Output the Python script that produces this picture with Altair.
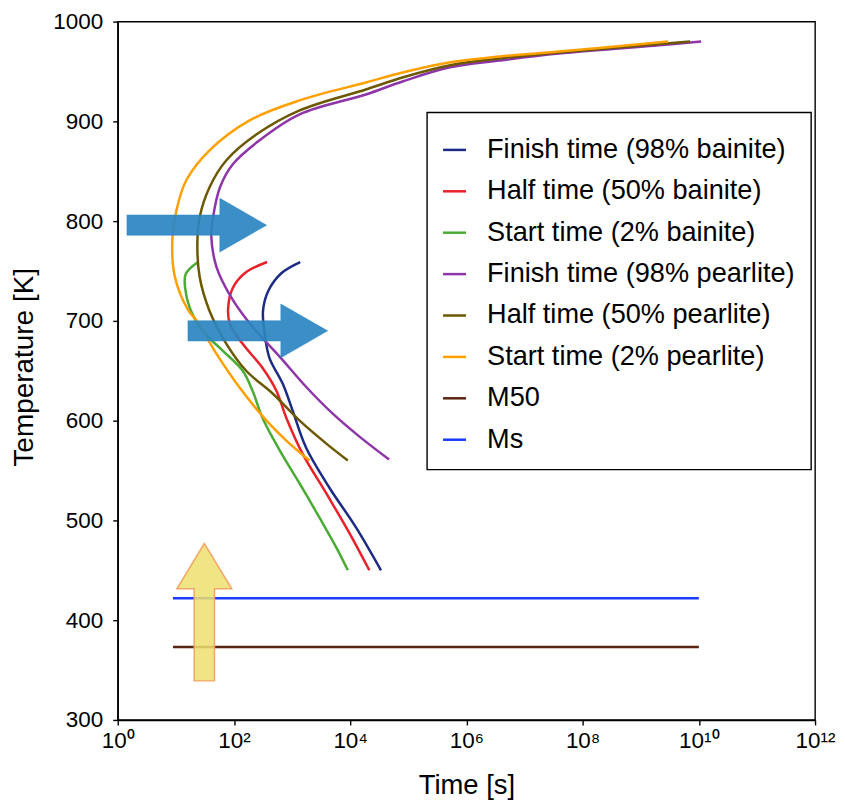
import altair as alt
import pandas as pd

FONT = "Liberation Sans, Arial, sans-serif"

# legend order / colours
series_names = [
    "Finish time (98% bainite)",
    "Half time (50% bainite)",
    "Start time (2% bainite)",
    "Finish time (98% pearlite)",
    "Half time (50% pearlite)",
    "Start time (2% pearlite)",
    "M50",
    "Ms",
]
series_colors = ["#1c2b84", "#e8212b", "#4bab35", "#8e35a8", "#6b5800", "#ffa000", "#5a2412", "#1a3cff"]

# curves: log10(time [s]) and temperature [K], in drawing order
bf_logt = [3.14, 2.82, 2.59, 2.50, 2.53, 2.61, 2.84, 3.01, 3.24, 3.64, 4.10, 4.53]
bf_T = [759, 748, 730, 710, 687, 663, 637, 610, 573, 533, 493, 450]

bh_logt = [2.57, 2.19, 1.98, 1.90, 1.93, 2.15, 2.49, 2.73, 2.90, 3.18, 3.59, 3.99, 4.33]
bh_T = [759, 748, 733, 713, 697, 677, 653, 630, 603, 567, 527, 487, 450]

bs_logt = [1.38, 1.17, 1.16, 1.24, 1.46, 1.81, 2.15, 2.32, 2.49, 2.79, 3.13, 3.47, 3.76, 3.96]
bs_T = [759, 747, 733, 713, 690, 670, 650, 630, 603, 570, 537, 503, 473, 450]

pf_logt = [10.04, 9.47, 7.59, 6.57, 5.70, 4.90, 4.27, 3.13, 2.44, 1.98, 1.76, 1.64, 1.61, 1.70, 1.98, 2.32, 2.79, 3.24, 3.70, 4.16, 4.67]
pf_T = [980, 977, 968, 961, 954, 940, 927, 907, 881, 857, 834, 804, 785, 754, 721, 694, 664, 634, 607, 584, 561]

ph_logt = [9.85, 7.59, 6.57, 5.70, 4.90, 4.27, 3.13, 2.39, 1.87, 1.58, 1.41, 1.37, 1.41, 1.58, 1.87, 2.21, 2.67, 3.13, 3.59, 3.96]
ph_T = [980, 969, 963, 956, 944, 932, 911, 887, 861, 834, 804, 777, 744, 710, 677, 650, 627, 600, 577, 560]

ps_logt = [9.47, 7.59, 6.57, 5.70, 4.90, 4.27, 3.13, 2.27, 1.58, 1.18, 1.01, 0.94, 0.98, 1.21, 1.36, 1.70, 2.10, 2.56, 2.90, 3.30]
ps_T = [980, 970, 965, 959, 949, 939, 921, 901, 871, 841, 811, 782, 745, 711, 700, 667, 633, 600, 580, 560]

m50_logt = [0.95, 10.0]
m50_T = [373, 373]
ms_logt = [0.95, 10.0]
ms_T = [422, 422]

curves = [
    (series_names[0], bf_logt, bf_T),
    (series_names[1], bh_logt, bh_T),
    (series_names[2], bs_logt, bs_T),
    (series_names[3], pf_logt, pf_T),
    (series_names[4], ph_logt, ph_T),
    (series_names[5], ps_logt, ps_T),
    (series_names[6], m50_logt, m50_T),
    (series_names[7], ms_logt, ms_T),
]

rows = []
for name, lt, tt in curves:
    for i, (a, b) in enumerate(zip(lt, tt)):
        rows.append({"series": name, "t": 10 ** a, "T": b, "idx": i})
df = pd.DataFrame(rows)

# annotation arrows (centre positions, data coordinates)
blue_arrow_logt = [1.36, 2.41]
blue_arrow_T = [796, 690]
yellow_arrow_logt = [1.49]
yellow_arrow_T = [408]

df_blue = pd.DataFrame({"t": [10 ** v for v in blue_arrow_logt], "T": blue_arrow_T})
df_yellow = pd.DataFrame({"t": [10 ** v for v in yellow_arrow_logt], "T": yellow_arrow_T})

x_ticks = [1, 1e2, 1e4, 1e6, 1e8, 1e10, 1e12]
y_ticks = [300, 400, 500, 600, 700, 800, 900, 1000]

label_expr = ("'10' + ['\u2070','\u00b9','\u00b2','\u00b3','\u2074','\u2075','\u2076','\u2077','\u2078','\u2079',"
              "'\u00b9\u2070','\u00b9\u00b9','\u00b9\u00b2'][round(log(datum.value)/LN10)]")

x_enc = alt.X(
    "t:Q",
    scale=alt.Scale(type="log", domain=[1, 1e12], nice=False),
    axis=alt.Axis(
        values=x_ticks,
        labelExpr=label_expr,
        labelFlush=False,
        title="Time [s]",
        labelFontSize=22.5,
        labelPadding=5,
        titleFontSize=27.5,
        titleBaseline="alphabetic",
        titleY=74,
        tickSize=5,
    ),
)
y_enc = alt.Y(
    "T:Q",
    scale=alt.Scale(domain=[300, 1000], nice=False),
    axis=alt.Axis(
        values=y_ticks,
        format="d",
        labelFlush=False,
        title="Temperature [K]",
        labelFontSize=22.5,
        labelPadding=10,
        titleFontSize=28,
        titleAngle=270,
        titleBaseline="alphabetic",
        titleAlign="center",
        titleX=-85,
        titleY=346,
        tickSize=5,
    ),
)

lines = alt.Chart(df).mark_line(strokeWidth=2.5, interpolate="catmull-rom").encode(
    x=x_enc,
    y=y_enc,
    color=alt.Color(
        "series:N",
        scale=alt.Scale(domain=series_names, range=series_colors),
        legend=alt.Legend(
            title=" ",
            titleFontSize=8,
            titlePadding=0,
            orient="none",
            legendX=310,
            legendY=91,
            padding=16,
            rowPadding=13.5,
            labelFontSize=27.2,
            labelLimit=500,
            labelOffset=19,
            labelColor="black",
            labelFont=FONT,
            symbolType="stroke",
            symbolSize=529,
            symbolStrokeWidth=2.5,
            symbolOffset=-2,
            fillColor="white",
            strokeColor="black",
        ),
    ),
    order=alt.Order("idx:Q"),
)

blue_path = "M -1 -0.145 L 0.33 -0.145 L 0.33 -0.385 L 1 0 L 0.33 0.385 L 0.33 0.145 L -1 0.145 Z"
yellow_path = "M -0.148 1 L -0.148 -0.34 L -0.4 -0.34 L 0 -1 L 0.4 -0.34 L 0.148 -0.34 L 0.148 1 Z"

blue_arrows = alt.Chart(df_blue).mark_point(
    shape=blue_path, size=19600, filled=True, fill="#2a85c1", fillOpacity=0.92,
    stroke="#2a85c1", strokeOpacity=0.5, strokeWidth=1,
).encode(x="t:Q", y="T:Q")

yellow_arrow = alt.Chart(df_yellow).mark_point(
    shape=yellow_path, size=18961, filled=True, fill="#efdf6f", fillOpacity=0.85,
    stroke="#f0a060", strokeOpacity=0.9, strokeWidth=1.5,
).encode(x="t:Q", y="T:Q")

chart = alt.layer(lines, blue_arrows, yellow_arrow).properties(
    width=699,
    height=700,
    autosize=alt.AutoSizeParams(type="none"),
    padding={"left": 110, "top": 12.7, "right": 22, "bottom": 80},
).configure(
    font=FONT,
).configure_view(
    stroke="black", strokeWidth=1.4,
).configure_axis(
    grid=False,
    domainColor="black",
    domainWidth=1.4,
    tickColor="black",
    tickWidth=1.4,
    labelColor="black",
    titleColor="black",
    labelFont=FONT,
    titleFont=FONT,
    titleFontWeight="normal",
).configure_legend(
    strokeWidth=1.4,
)

chart.save("out.html", embed_options={"renderer": "svg", "actions": False})
